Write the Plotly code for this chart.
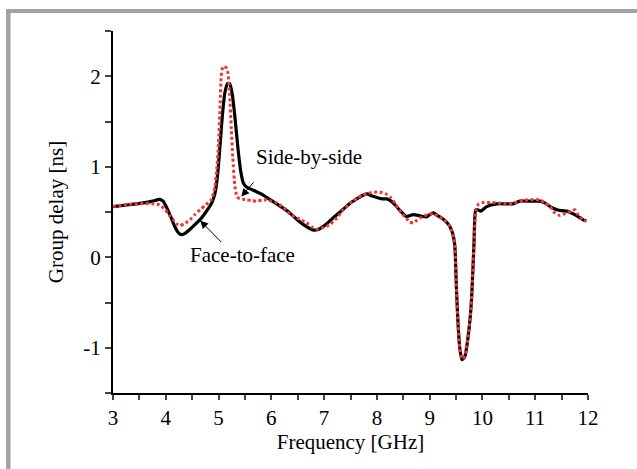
import plotly.graph_objects as go

# Face-to-face (black solid)
f2f_freq = [3.00, 3.30, 3.57, 3.75, 3.88, 3.95, 4.02, 4.10, 4.17, 4.24, 4.30, 4.38, 4.46, 4.55, 4.65,
            4.76, 4.87, 4.93, 4.98, 5.03, 5.07, 5.12, 5.17, 5.21, 5.26, 5.31, 5.37, 5.42, 5.47, 5.53,
            5.60, 5.70, 5.84, 5.97, 6.10, 6.23, 6.35, 6.48, 6.61, 6.72, 6.80, 6.90, 7.05, 7.20, 7.36,
            7.50, 7.62, 7.72, 7.81, 7.90, 8.00, 8.10, 8.19, 8.27, 8.34, 8.45, 8.56, 8.62, 8.69, 8.80,
            8.94, 9.00, 9.07, 9.15, 9.26, 9.36, 9.42, 9.46, 9.48, 9.51, 9.54, 9.57, 9.61, 9.64, 9.67,
            9.70, 9.73, 9.77, 9.80, 9.84, 9.87, 9.91, 9.97, 10.08, 10.27, 10.45, 10.58, 10.71, 10.90,
            11.09, 11.18, 11.28, 11.35, 11.41, 11.50, 11.60, 11.68, 11.75, 11.85, 11.92, 11.97]
f2f_delay = [0.56, 0.58, 0.60, 0.62, 0.64, 0.62, 0.545, 0.44, 0.34, 0.27, 0.25, 0.27, 0.31, 0.36, 0.415,
             0.50, 0.60, 0.70, 0.90, 1.25, 1.55, 1.82, 1.92, 1.92, 1.80, 1.55, 1.19, 0.95, 0.82, 0.775,
             0.755, 0.73, 0.69, 0.64, 0.59, 0.54, 0.49, 0.42, 0.36, 0.32, 0.30, 0.31, 0.37, 0.45, 0.53,
             0.60, 0.645, 0.68, 0.70, 0.68, 0.66, 0.645, 0.645, 0.62, 0.58, 0.51, 0.45, 0.46, 0.47, 0.46,
             0.445, 0.47, 0.49, 0.46, 0.42, 0.36, 0.29, 0.20, 0.10, -0.39, -0.76, -1.00, -1.13, -1.12, -1.09,
             -1.00, -0.87, -0.65, -0.39, 0.16, 0.52, 0.525, 0.51, 0.56, 0.59, 0.59, 0.59, 0.62, 0.62,
             0.62, 0.60, 0.56, 0.54, 0.525, 0.515, 0.51, 0.49, 0.47, 0.435, 0.41, 0.40]

# Side-by-side (red dotted)
sbs_freq = [3.00, 3.30, 3.57, 3.75, 3.88, 3.99, 4.06, 4.14, 4.20, 4.27, 4.35, 4.46, 4.55, 4.65, 4.76,
            4.87, 4.93, 4.97, 5.00, 5.03, 5.05, 5.08, 5.11, 5.15, 5.18, 5.21, 5.24, 5.27, 5.31, 5.35,
            5.40, 5.46, 5.53, 5.62, 5.72, 5.82, 5.91, 6.00, 6.10, 6.23, 6.35, 6.50, 6.67, 6.78, 6.86,
            6.95, 7.11, 7.25, 7.36, 7.50, 7.62, 7.72, 7.81, 7.90, 8.00, 8.10, 8.17, 8.26, 8.34, 8.45,
            8.56, 8.62, 8.69, 8.76, 8.85, 8.95, 9.07, 9.15, 9.26, 9.36, 9.42, 9.46, 9.48, 9.51, 9.54,
            9.57, 9.61, 9.64, 9.67, 9.70, 9.73, 9.77, 9.80, 9.84, 9.88, 9.93, 10.02, 10.15, 10.30, 10.45,
            10.60, 10.77, 10.95, 11.09, 11.18, 11.28, 11.37, 11.47, 11.55, 11.60, 11.68, 11.75, 11.80,
            11.85, 11.92, 11.97]
sbs_delay = [0.56, 0.585, 0.595, 0.59, 0.58, 0.525, 0.47, 0.415, 0.37, 0.35, 0.37, 0.415, 0.47, 0.525, 0.58,
             0.64, 0.78, 1.00, 1.26, 1.70, 2.00, 2.10, 2.11, 2.09, 2.03, 1.80, 1.44, 1.10, 0.78, 0.67,
             0.645, 0.64, 0.635, 0.625, 0.62, 0.63, 0.635, 0.62, 0.60, 0.55, 0.48, 0.43, 0.38, 0.33, 0.31,
             0.32, 0.36, 0.44, 0.525, 0.60, 0.65, 0.685, 0.70, 0.715, 0.72, 0.715, 0.70, 0.66, 0.60, 0.50,
             0.43, 0.39, 0.38, 0.41, 0.445, 0.47, 0.48, 0.46, 0.415, 0.36, 0.29, 0.20, 0.10, -0.39, -0.76,
             -1.00, -1.12, -1.12, -1.08, -1.00, -0.87, -0.65, -0.39, 0.16, 0.535, 0.59, 0.605, 0.605, 0.60, 0.59,
             0.60, 0.63, 0.635, 0.635, 0.60, 0.56, 0.49, 0.46, 0.48, 0.49, 0.51, 0.525, 0.48,
             0.445, 0.41, 0.40]

x_ticks = [3, 4, 5, 6, 7, 8, 9, 10, 11, 12]
y_ticks = [-1, 0, 1, 2]
y_ticktext = ["-1", "0", "1", "2"]

FONT = "Liberation Serif"

fig = go.Figure()
fig.add_trace(go.Scatter(x=f2f_freq, y=f2f_delay, mode="lines", name="Face-to-face",
                         line=dict(color="black", width=3.2, shape="spline", smoothing=0.5)))
fig.add_trace(go.Scatter(x=sbs_freq, y=sbs_delay, mode="lines", name="Side-by-side",
                         line=dict(color="#f03535", width=3, dash="3px,2.5px", shape="spline", smoothing=0.5)))

# annotations
fig.add_annotation(x=5.67, y=1.11, text="Side-by-side", showarrow=False, xanchor="left", yanchor="middle",
                   font=dict(family=FONT, size=21, color="black"))
fig.add_annotation(x=5.43, y=0.67, ax=5.69, ay=0.846, axref="x", ayref="y", text="", showarrow=True,
                   arrowhead=2, arrowsize=1.6, arrowwidth=1, arrowcolor="black")
fig.add_annotation(x=4.42, y=0.03, text="Face-to-face", showarrow=False, xanchor="left", yanchor="middle",
                   font=dict(family=FONT, size=21, color="black"))
fig.add_annotation(x=4.65, y=0.405, ax=5.08, ay=0.151, axref="x", ayref="y", text="", showarrow=True,
                   arrowhead=2, arrowsize=1.6, arrowwidth=1, arrowcolor="black")

# gray frame (top and left)
W, H = 637, 469
L, R, T, B = 113, 49, 31, 76
pw, ph = W - L - R, H - T - B
def px(x):
    return (x - L) / pw
def py(y):
    return (H - B - y) / ph
fig.add_shape(type="rect", xref="paper", yref="paper", x0=px(6), x1=px(637), y0=py(13), y1=py(9),
              fillcolor="#a3a3a3", line=dict(width=0), layer="below")
fig.add_shape(type="rect", xref="paper", yref="paper", x0=px(6), x1=px(10.5), y0=py(469), y1=py(9),
              fillcolor="#a3a3a3", line=dict(width=0), layer="below")

fig.update_layout(
    width=W, height=H,
    margin=dict(l=L, r=R, t=T, b=B),
    paper_bgcolor="white", plot_bgcolor="white",
    showlegend=False,
    font=dict(family=FONT, size=21, color="black"),
)
fig.update_xaxes(range=[3, 12], tickmode="array", tickvals=x_ticks, ticks="outside", ticklen=5, tickwidth=1.5,
                 showline=True, linewidth=2, linecolor="black", showgrid=False, zeroline=False,
                 minor=dict(dtick=0.5, tick0=3, ticks="outside", ticklen=5, tickwidth=1.5, showgrid=False),
                 title=dict(text="Frequency [GHz]", standoff=4, font=dict(family=FONT, size=21)),
                 tickfont=dict(family=FONT, size=21))
fig.update_yaxes(range=[-1.5, 2.5], tickmode="array", tickvals=y_ticks, ticktext=y_ticktext, ticks="outside",
                 ticklen=6, tickwidth=1.5, showline=True, linewidth=2, linecolor="black", showgrid=False,
                 zeroline=False,
                 minor=dict(dtick=0.5, tick0=-1.5, ticks="outside", ticklen=6, tickwidth=1.5, showgrid=False),
                 title=dict(text="Group delay [ns]", standoff=14, font=dict(family=FONT, size=21)),
                 tickfont=dict(family=FONT, size=21))

fig.write_html("out.html")
